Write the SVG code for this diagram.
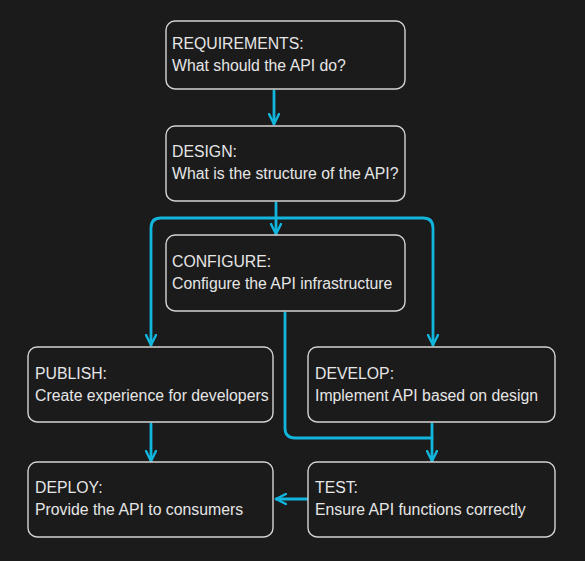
<svg xmlns="http://www.w3.org/2000/svg" width="585" height="561" viewBox="0 0 585 561">
<defs>
<style>
.box{fill:#1b1b1b;stroke:#d4d4d4;stroke-width:1.4}
.t{font-family:"Liberation Sans",Arial,sans-serif;font-size:15.8px;fill:#e6e6e6}
.c{fill:none;stroke:#12b5dc;stroke-width:2.8;stroke-linecap:round;stroke-linejoin:round}
</style>
<marker id="ah" viewBox="0 0 12 12" refX="11" refY="6" markerWidth="12" markerHeight="12" markerUnits="userSpaceOnUse" orient="auto">
<path d="M1,1 L11,6 L1,11" fill="none" stroke="#12b5dc" stroke-width="2.5" stroke-linecap="round" stroke-linejoin="round"/>
</marker>
</defs>
<rect width="585" height="561" fill="#1b1b1b"/>
<g id="connectors">
<path class="c" d="M274,91 V124" marker-end="url(#ah)"/>
<path class="c" d="M276,203 V234" marker-end="url(#ah)"/>
<path class="c" d="M276,218 H161 Q151,218 151,228 V345" marker-end="url(#ah)"/>
<path class="c" d="M276,218 H423 Q433,218 433,228 V345" marker-end="url(#ah)"/>
<path class="c" d="M285,313 V428 Q285,438 295,438 H432"/>
<path class="c" d="M432,424 V461" marker-end="url(#ah)"/>
<path class="c" d="M151,424 V461" marker-end="url(#ah)"/>
<path class="c" d="M307,499 H276" marker-end="url(#ah)"/>
</g>
<g id="requirements">
<rect class="box" x="166" y="21" width="239" height="68" rx="9"/>
<text class="t" x="172" y="48.5">REQUIREMENTS:</text>
<text class="t" x="172" y="70.5">What should the API do?</text>
</g>
<g id="design">
<rect class="box" x="166" y="126" width="239" height="75" rx="9"/>
<text class="t" x="172" y="157">DESIGN:</text>
<text class="t" x="172" y="179">What is the structure of the API?</text>
</g>
<g id="configure">
<rect class="box" x="166" y="235" width="239" height="76" rx="9"/>
<text class="t" x="172" y="266.5">CONFIGURE:</text>
<text class="t" x="172" y="288.5">Configure the API infrastructure</text>
</g>
<g id="publish">
<rect class="box" x="28" y="347" width="245" height="75" rx="9"/>
<text class="t" x="35" y="378.5">PUBLISH:</text>
<text class="t" x="35" y="400.5">Create experience for developers</text>
</g>
<g id="develop">
<rect class="box" x="308" y="347" width="247" height="75" rx="9"/>
<text class="t" x="315" y="378.5">DEVELOP:</text>
<text class="t" x="315" y="400.5">Implement API based on design</text>
</g>
<g id="deploy">
<rect class="box" x="28" y="462" width="245" height="75" rx="9"/>
<text class="t" x="35" y="493">DEPLOY:</text>
<text class="t" x="35" y="515">Provide the API to consumers</text>
</g>
<g id="test">
<rect class="box" x="308" y="462" width="247" height="75" rx="9"/>
<text class="t" x="315" y="493">TEST:</text>
<text class="t" x="315" y="515">Ensure API functions correctly</text>
</g>
</svg>
